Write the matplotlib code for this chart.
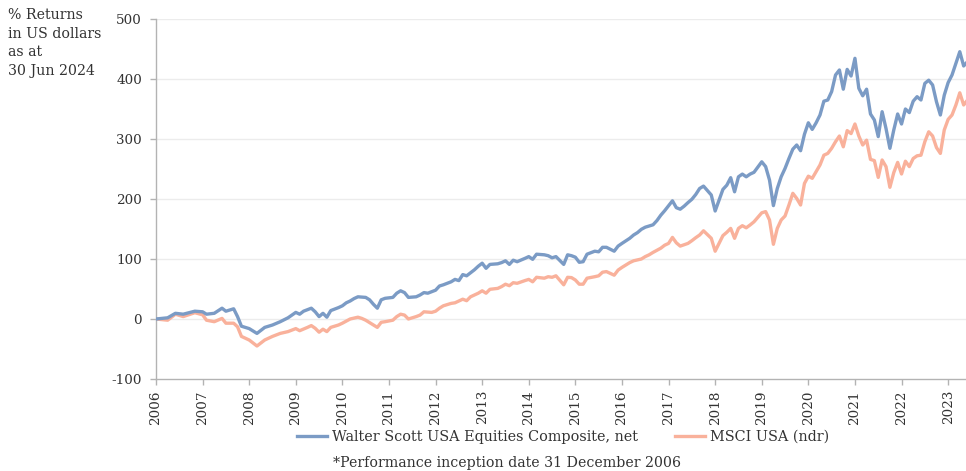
import matplotlib
matplotlib.use("Agg")
import matplotlib.pyplot as plt

# ---- data (month index from start of series, % return) ----
ws_months = [0, 3, 5, 7, 10, 12, 13, 15, 17, 18, 20, 21, 22, 24, 26, 28, 30, 32, 34, 36,
             37, 38, 40, 41, 42, 43, 44, 45, 47, 48, 49, 50, 51, 52, 54, 55, 56, 57, 58, 59,
             61, 62, 63, 64, 65, 67, 68, 69, 70, 71, 72, 73, 74, 76, 77, 78, 79, 80, 82, 83,
             84, 85, 86, 88, 89, 90, 91, 92, 93, 95, 96, 97, 98, 100, 101, 102, 103, 105, 106, 107,
             108, 109, 110, 111, 112, 113, 114, 115, 116, 118, 119, 120, 122, 123, 124, 125, 126, 128, 129, 130,
             131, 133, 134, 135, 136, 137, 138, 139, 140, 141, 143, 144, 145, 146, 147, 148, 149, 150, 151, 152,
             153, 154, 156, 157, 158, 159, 160, 161, 162, 163, 164, 165, 166, 167, 168, 169, 170, 171, 172, 173,
             174, 175, 176, 177, 178, 179, 180, 181, 182, 183, 184, 185, 186, 187, 188, 189, 190, 191, 192, 193,
             194, 195, 196, 197, 198, 199, 200, 201, 202, 203, 204, 205, 206, 207, 208, 209]
ws_values = [0, 2, 9.5, 8, 13, 12, 8, 9.5, 18, 13, 17, 4, -12, -16, -24, -14, -10, -4.5, 2, 11,
             8, 13, 18, 12, 4, 9.5, 3, 14, 19, 22, 27, 30, 34, 37, 36, 32, 24.5, 18, 32, 34.5,
             36, 43, 47, 44, 36, 37, 40, 44, 43, 45.5, 48, 55, 57, 62, 66, 64, 74, 72, 82, 88,
             93, 84.5, 91, 92, 94, 97, 91, 98, 95.5, 101, 104, 99.5, 108, 107, 105.5, 102, 104, 91, 107, 105.5,
             103, 94.5, 95.5, 108, 110.5, 113, 112, 119.5, 119.5, 113, 121.5, 126, 134.5, 140, 144, 149.5, 153, 157, 164, 173,
             180.5, 197, 185.5, 183, 188, 194, 199.5, 207.5, 217.5, 221.5, 206.7, 180, 198, 216, 223, 235.5, 212, 237, 241.5, 237,
             241.5, 244.5, 262, 254, 231.5, 189, 217.5, 237, 251, 267.5, 283, 290, 280.5, 308, 327, 316, 327, 340, 363, 365,
             379, 406.7, 415, 383, 416, 405, 434.5, 384.5, 372, 383, 341.7, 331.7, 304, 345.5, 317.5, 284.5, 315, 341.7, 325, 350,
             344, 363, 370.5, 365, 392.7, 398, 390, 362, 340, 373, 394, 406.7, 426, 445.5, 421.7, 429]

msci_months = [0, 3, 5, 7, 10, 12, 13, 15, 17, 18, 20, 21, 22, 24, 26, 28, 30, 32, 34, 36,
               37, 39, 40, 41, 42, 43, 44, 45, 47, 48, 49, 50, 52, 53, 54, 55, 57, 58, 59, 61,
               62, 63, 64, 65, 67, 68, 69, 71, 72, 73, 74, 76, 77, 78, 79, 80, 81, 83, 84, 85,
               86, 88, 89, 90, 91, 92, 93, 95, 96, 97, 98, 100, 101, 102, 103, 105, 106, 107, 108, 109,
               110, 111, 113, 114, 115, 116, 118, 119, 120, 122, 123, 125, 126, 127, 128, 130, 131, 132, 133, 134,
               135, 137, 138, 139, 140, 141, 143, 144, 145, 146, 147, 148, 149, 150, 151, 152, 153, 154, 156, 157,
               158, 159, 160, 161, 162, 163, 164, 165, 166, 167, 168, 169, 170, 171, 172, 173, 174, 175, 176, 177,
               178, 179, 180, 181, 182, 183, 184, 185, 186, 187, 188, 189, 190, 191, 192, 193, 194, 195, 196, 197,
               198, 199, 200, 201, 202, 203, 204, 205, 206, 207, 208, 209]
msci_values = [0, -2, 8, 4, 10.5, 7, -2, -4.5, 1, -7, -7, -13, -29, -35, -45, -35, -29, -24, -21, -16,
               -19.5, -14, -11, -15.5, -22, -17, -21, -14, -10, -7, -3.5, 0, 3, 1, -2, -6, -14, -5.5, -4.5, -2,
               4, 8, 6.5, 0, 4, 6.5, 12, 11, 13, 18, 22, 26, 27, 30, 33, 30.5, 37, 43, 47, 43,
               49.5, 51, 54, 58, 55.5, 60.5, 59.5, 64, 66, 62, 69.5, 68, 70.5, 69.5, 72, 57, 69.5, 69, 65, 58,
               58, 68, 70.5, 72, 78, 79, 73, 81.5, 86, 94, 97, 100, 104, 107, 111, 118, 123, 126, 136, 127,
               121.5, 126, 130.5, 135.5, 140, 147, 134.5, 113, 126, 139, 144.5, 151, 134.5, 151, 155.5, 152, 156.7, 162, 177, 179,
               165, 124.5, 151, 165, 171.7, 190, 209.5, 201, 190, 226, 238, 234.5, 245.5, 256.7, 273, 276, 284.5, 295.5, 305, 287,
               314, 309, 325, 305, 290, 298, 266, 264, 236, 265, 254, 219.5, 244, 261, 241.7, 263, 254, 267.5, 272, 273,
               295.5, 312, 305, 285.7, 276, 315, 332.7, 340, 356.7, 377, 356.7, 365]

year_labels = [str(y) for y in range(2006, 2024)]
y_ticks = [-100, 0, 100, 200, 300, 400, 500]

series_names = ["Walter Scott USA Equities Composite, net", "MSCI USA (ndr)"]
footnote = "*Performance inception date 31 December 2006"
axis_title = "% Returns\nin US dollars\nas at\n30 Jun 2024"

# ---- styling ----
BLUE = "#7b9bc5"
SALMON = "#f9b19b"
TEXT = "#333333"
plt.rcParams["font.family"] = ["DejaVu Serif"]

fig = plt.figure(figsize=(9.66, 4.71), dpi=100)
ax = fig.add_axes([156 / 966, 92 / 471, (966 - 156) / 966, 360 / 471])

ax.plot(ws_months, ws_values, color=BLUE, lw=2.4, solid_joinstyle="round", label=series_names[0], zorder=3)
ax.plot(msci_months, msci_values, color=SALMON, lw=2.4, solid_joinstyle="round", label=series_names[1], zorder=2)

ax.set_ylim(-100, 500)
ax.set_xlim(0, 208.6)
ax.set_yticks(y_ticks)
ax.set_yticklabels([str(v) for v in y_ticks])
ax.set_xticks([12 * i for i in range(len(year_labels))])
ax.set_xticklabels(year_labels, rotation=90)

for v in y_ticks[1:]:
    ax.axhline(v, color="#ececec", lw=1.0, zorder=1)

for s in ["top", "right"]:
    ax.spines[s].set_visible(False)
for s in ["left", "bottom"]:
    ax.spines[s].set_color("#b3b3b3")
    ax.spines[s].set_linewidth(1.0)

ax.tick_params(axis="y", colors="#b3b3b3", labelcolor=TEXT, labelsize=9.7, length=4, width=1, pad=6)
ax.tick_params(axis="x", colors="#b3b3b3", labelcolor=TEXT, labelsize=9.7, length=4, width=1, pad=4)

fig.text(8 / 966, 1 - 8 / 471, axis_title, ha="left", va="top", fontsize=10.2, color=TEXT, linespacing=1.42)

fig.legend(loc="center left", bbox_to_anchor=(297 / 966, 1 - 437 / 471), ncol=2, frameon=False,
           fontsize=10.4, handlelength=2.1, handletextpad=0.35, columnspacing=2.5, labelcolor=TEXT,
           borderaxespad=0, borderpad=0)
fig.text(333 / 966, 1 - 463 / 471, footnote, ha="left", va="center", fontsize=10.2, color=TEXT)

fig.savefig("out.png", dpi=100)
